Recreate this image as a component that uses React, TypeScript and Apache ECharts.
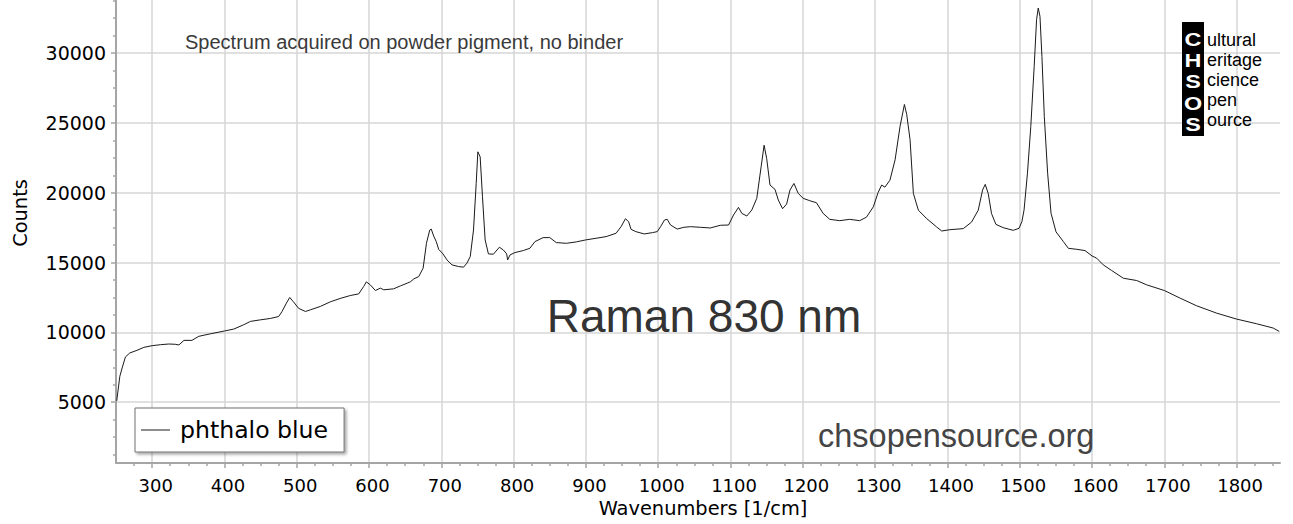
import React, { useEffect, useRef } from 'react';
import * as echarts from 'echarts';

const SERIES_NAME = 'phthalo blue';
const X_TITLE = 'Wavenumbers [1/cm]';
const Y_TITLE = 'Counts';
const NOTE = 'Spectrum acquired on powder pigment, no binder';
const TITLE = 'Raman 830 nm';
const SITE = 'chsopensource.org';
const LOGO_LETTERS = ['C', 'H', 'S', 'O', 'S'];
const LOGO_WORDS = ['ultural', 'eritage', 'cience', 'pen', 'ource'];

const WAVENUMBERS = [
  251, 255.3, 258.5, 263, 269, 279, 288.5, 300, 311.5, 323, 332, 337, 344, 355, 364.5, 380.6,
  400, 413, 426.7, 436, 449.8, 463.6, 475, 479.7, 485.7, 490.3, 495, 502.8, 512, 519, 532.7,
  546.5, 560, 574, 585.7, 592.6, 596.3, 601.8, 608.8, 615.7, 620.3, 634, 643.6, 652.8, 657,
  662, 668.8, 674.8, 679.4, 684, 686, 689.4, 693, 696.3, 702.3, 707.8, 714.7, 723.8, 730.7,
  735.3, 740, 744.5, 748.2, 750.5, 753.7, 756.9, 760.6, 765.1, 772, 780.3, 785.8, 790.4,
  791.7, 795, 801.8, 813.3, 822.5, 829.4, 840.8, 850, 859, 873, 886.7, 899.5, 914, 928,
  941.7, 948.6, 954.6, 959, 962.4, 969, 980.7, 992, 998.6, 1003.2, 1008.7, 1012.4, 1017,
  1026.2, 1035.4, 1044.6, 1058.4, 1072, 1085.9, 1097.3, 1104.1, 1111, 1115.6, 1122.5, 1129.4,
  1136.3, 1142.3, 1146.4, 1150, 1154.6, 1161.5, 1166.1, 1172, 1177.6, 1182.2, 1187.7, 1193.6,
  1200.5, 1209.6, 1218.8, 1228, 1237.2, 1251, 1264.8, 1278.6, 1288, 1297.5, 1304, 1309,
  1313.5, 1320.5, 1327.6, 1334.5, 1340.5, 1343.7, 1348.3, 1352.9, 1359.8, 1371.3, 1385.1,
  1392, 1403.5, 1421.9, 1433.4, 1442.6, 1448.6, 1452.3, 1456.4, 1461, 1467, 1477.1, 1491,
  1499, 1503, 1506, 1510.7, 1515.3, 1520, 1523.3, 1525.6, 1528, 1530.7, 1534, 1538.6, 1543.3,
  1550.2, 1553.5, 1560.4, 1567.3, 1578.9, 1590.3, 1600, 1606.5, 1615.6, 1627.2, 1643.3,
  1661.8, 1675.6, 1700, 1722, 1744.7, 1772.4, 1800, 1827.7, 1850.7, 1859,
];

const COUNTS = [
  5100, 6860, 7455, 8240, 8526, 8717, 8930, 9050, 9120, 9170, 9150, 9100, 9430, 9430, 9720, 9900,
  10100, 10240, 10550, 10790, 10900, 11000, 11140, 11500, 12100, 12500, 12215, 11715, 11500, 11620, 11860,
  12190, 12430, 12640, 12760, 13290, 13620, 13400, 13000, 13170, 13050, 13120, 13336, 13526, 13620,
  13836, 14000, 14600, 16380, 17334, 17400, 16900, 16500, 15950, 15620, 15190, 14835, 14716, 14670,
  14954, 15430, 17334, 20666, 22930, 22570, 19714, 16620, 15620, 15600, 16100, 15900, 15620,
  15190, 15550, 15716, 15860, 16025, 16500, 16787, 16787, 16430, 16380, 16480, 16620, 16740, 16860,
  17100, 17570, 18140, 17930, 17380, 17215, 17050, 17144, 17215, 17570, 18050, 18100, 17690,
  17400, 17525, 17570, 17525, 17477, 17670, 17690, 18405, 18950, 18525, 18334, 18762,
  19600, 21856, 23400, 22450, 20547, 20240, 19476, 18858, 19190, 20190, 20666, 19952,
  19600, 19430, 19286, 18525, 18096, 18000, 18096, 18000, 18250, 18990, 20000, 20550,
  20400, 20900, 22356, 24760, 26320, 25600, 23800, 19950, 18750, 18150, 17550,
  17260, 17355, 17430, 17900, 18750, 20190, 20600, 19950, 18510, 17740, 17500, 17310,
  17450, 17930, 18770, 21400, 24740, 29044, 32390, 33226, 32630, 29760, 25460, 21400, 18530,
  17200, 16975, 16500, 16020, 15950, 15860, 15476, 15310, 14833, 14430, 13880,
  13715, 13405, 13000, 12450, 11906, 11380, 10954, 10620, 10310, 10070,
];

const X_TICKS = [300, 400, 500, 600, 700, 800, 900, 1000, 1100, 1200, 1300, 1400, 1500, 1600, 1700, 1800];
const Y_TICKS = [5000, 10000, 15000, 20000, 25000, 30000];
const X_MIN = 250;
const X_MAX = 1860;
const Y_MIN = 650;
const Y_MAX = 33800;

const X_MINOR: number[] = [];
for (let v = 275; v <= 1850; v += 25) if (v % 100 !== 0) X_MINOR.push(v);
const Y_MINOR: number[] = [];
for (let v = 1250; v <= 33750; v += 1250) if (v % 5000 !== 0) Y_MINOR.push(v);

const TICK_FONT = 'DejaVu Sans';
const TEXT_FONT = 'Liberation Sans, Arial, sans-serif';
const AXIS_COLOR = '#a5a5a5';
const GRID_COLOR = '#d6d6d6';

const plain = (v: number) => String(v);

export default function App() {
  const ref = useRef<HTMLDivElement>(null);

  useEffect(() => {
    if (!ref.current) return;
    const chart = echarts.init(ref.current, null, { renderer: 'svg' });

    const data = WAVENUMBERS.map((x, i) => [x, COUNTS[i]]);

    chart.setOption({
      animation: false,
      backgroundColor: '#fff',
      grid: { left: 116, right: 13, top: 0, bottom: 61, containLabel: false },
      legend: {
        data: [{ name: SERIES_NAME, icon: 'rect' }],
        left: 135,
        top: 408,
        orient: 'horizontal',
        backgroundColor: '#fff',
        borderColor: '#707070',
        borderWidth: 1,
        borderRadius: 0,
        shadowColor: 'rgba(0,0,0,0.35)',
        shadowBlur: 3,
        shadowOffsetX: 2,
        shadowOffsetY: 2,
        padding: [10, 16, 10, 6],
        itemWidth: 29,
        itemHeight: 1.5,
        itemGap: 10,
        itemStyle: { color: '#666', borderWidth: 0 },
        textStyle: { fontFamily: TICK_FONT, fontSize: 23.6, color: '#000', padding: [0, 0, 0, 5] },
      },
      xAxis: [
        {
          type: 'value',
          min: X_MIN,
          max: X_MAX,
          position: 'bottom',
          name: X_TITLE,
          nameLocation: 'middle',
          nameGap: 35,
          nameTextStyle: { fontFamily: TICK_FONT, fontSize: 19.4, color: '#000', padding: [0, 0, 0, 10] },
          axisLine: { show: true, onZero: false, lineStyle: { color: AXIS_COLOR, width: 2 } },
          axisTick: { show: true, customValues: X_TICKS, length: 5, lineStyle: { color: AXIS_COLOR, width: 1.5 } },
          axisLabel: {
            customValues: X_TICKS,
            formatter: plain,
            margin: 13,
            fontFamily: TICK_FONT,
            fontSize: 18,
            color: '#000',
            padding: [0, 0, 0, 7],
          },
          splitLine: { show: true, lineStyle: { color: GRID_COLOR, width: 1.5 } },
        },
        {
          type: 'value',
          min: X_MIN,
          max: X_MAX,
          position: 'bottom',
          axisLine: { show: false, onZero: false },
          axisTick: { show: true, customValues: X_MINOR, length: 3, lineStyle: { color: AXIS_COLOR, width: 1.5 } },
          axisLabel: { show: false },
          splitLine: { show: false },
        },
      ],
      yAxis: [
        {
          type: 'value',
          min: Y_MIN,
          max: Y_MAX,
          position: 'left',
          name: Y_TITLE,
          nameLocation: 'middle',
          nameGap: 86,
          nameTextStyle: { fontFamily: TICK_FONT, fontSize: 19.4, color: '#000', padding: [0, 0, 0, 37] },
          axisLine: { show: true, onZero: false, lineStyle: { color: AXIS_COLOR, width: 2 } },
          axisTick: { show: true, customValues: Y_TICKS, length: 5, lineStyle: { color: AXIS_COLOR, width: 1.5 } },
          axisLabel: {
            customValues: Y_TICKS,
            formatter: plain,
            margin: 10,
            fontFamily: TICK_FONT,
            fontSize: 19,
            color: '#000',
          },
          splitLine: { show: true, lineStyle: { color: GRID_COLOR, width: 1.5 } },
        },
        {
          type: 'value',
          min: Y_MIN,
          max: Y_MAX,
          position: 'left',
          axisLine: { show: false, onZero: false },
          axisTick: { show: true, customValues: Y_MINOR, length: 3, lineStyle: { color: AXIS_COLOR, width: 1.5 } },
          axisLabel: { show: false },
          splitLine: { show: false },
        },
      ],
      series: [
        {
          name: SERIES_NAME,
          type: 'line',
          xAxisIndex: 0,
          yAxisIndex: 0,
          data,
          symbol: 'none',
          showSymbol: false,
          smooth: false,
          lineStyle: { color: '#1a1a1a', width: 1 },
          itemStyle: { color: '#1a1a1a' },
          z: 5,
        },
      ],
      graphic: [
        {
          type: 'text',
          x: 185,
          y: 42.3,
          style: { text: NOTE, fill: '#3a3a3a', font: `20px ${TEXT_FONT}`, align: 'left', verticalAlign: 'middle' },
          z: 100,
        },
        {
          type: 'text',
          x: 704,
          y: 316,
          style: { text: TITLE, fill: '#333', font: `46px ${TEXT_FONT}`, align: 'center', verticalAlign: 'middle' },
          z: 100,
        },
        {
          type: 'text',
          x: 818,
          y: 435.5,
          style: { text: SITE, fill: '#444', font: `32.5px ${TEXT_FONT}`, align: 'left', verticalAlign: 'middle' },
          z: 100,
        },
        {
          type: 'rect',
          shape: { x: 1182, y: 22, width: 22, height: 114 },
          style: { fill: '#000' },
          z: 100,
        },
        {
          type: 'text',
          x: 1193,
          y: 29,
          scaleX: 1.3,
          style: {
            text: LOGO_LETTERS.join('\n'),
            fill: '#fff',
            font: `900 18px ${TEXT_FONT}`,
            lineHeight: 21.2,
            align: 'center',
            verticalAlign: 'top',
          },
          z: 101,
        },
        {
          type: 'text',
          x: 1207,
          y: 30,
          style: {
            text: LOGO_WORDS.join('\n'),
            fill: '#000',
            font: `18px ${TEXT_FONT}`,
            lineHeight: 20.1,
            align: 'left',
            verticalAlign: 'top',
          },
          z: 100,
        },
      ],
    });

    return () => chart.dispose();
  }, []);

  return (
    <div
      ref={ref}
      style={{ position: 'absolute', left: 0, top: 0, width: 1293, height: 524 }}
    />
  );
}
